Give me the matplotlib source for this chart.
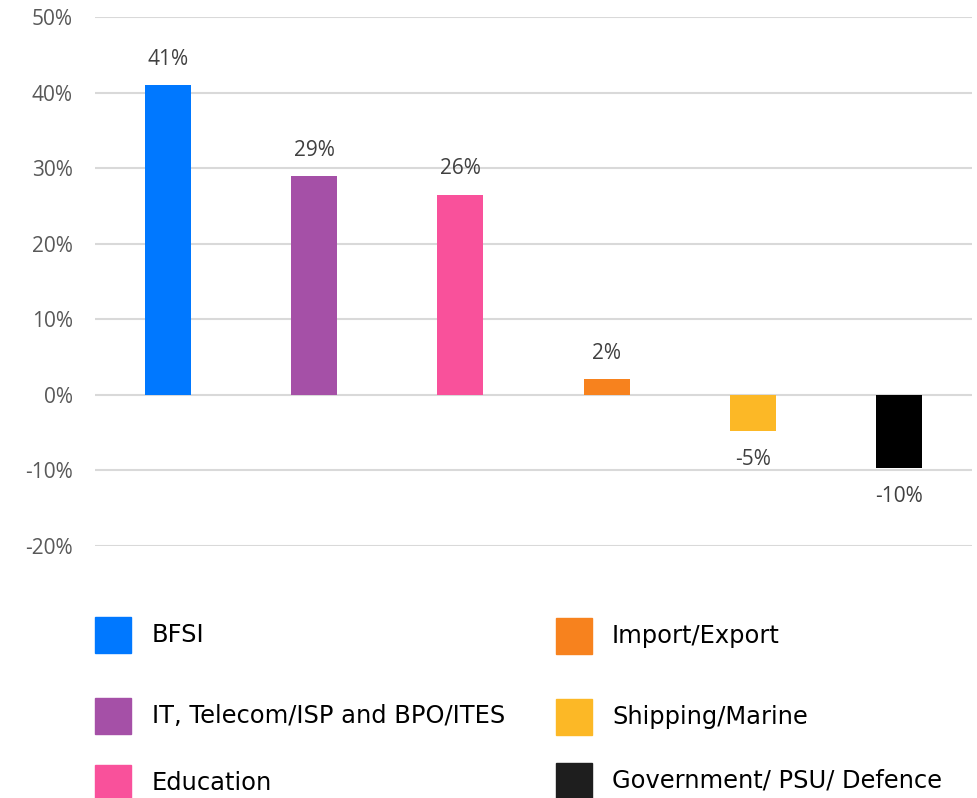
import matplotlib.pyplot as plt
from matplotlib.patches import Rectangle
from matplotlib.ticker import FuncFormatter

# data
categories = ['BFSI', 'IT, Telecom/ISP and BPO/ITES', 'Education',
              'Import/Export', 'Shipping/Marine', 'Government/ PSU/ Defence']
values = [41.0, 29.0, 26.5, 2.1, -4.8, -9.7]
labels = ['41%', '29%', '26%', '2%', '-5%', '-10%']
colors = ['#0078FF', '#A550A7', '#F9519B', '#F7821E', '#FCB826', '#000000']
legend_colors = ['#0078FF', '#A550A7', '#F9519B', '#F7821E', '#FCB826', '#1E1E1E']
yticks = [-20, -10, 0, 10, 20, 30, 40, 50]

W, H = 977, 798
fig = plt.figure(figsize=(W / 100, H / 100), dpi=100)
ax = fig.add_axes([95 / W, 1 - 546 / H, (972 - 95) / W, (546 - 17) / H])

x = range(len(values))
bars = ax.bar(x, values, width=0.315, color=colors, zorder=3)

for i, (v, lab) in enumerate(zip(values, labels)):
    off = 3.4 if v >= 0 else -3.8
    ax.text(i, v + off, lab, ha='center', va='center', fontsize=15,
            family='Open Sans', color='#404040')

ax.set_xlim(-0.5, len(values) - 0.5)
ax.set_ylim(-20, 50)
ax.set_yticks(yticks)
ax.yaxis.set_major_formatter(FuncFormatter(lambda v, p: '{:.0f}%'.format(v)))
ax.tick_params(axis='y', length=0, labelsize=15, labelcolor='#595959', pad=16)
for t in ax.get_yticklabels():
    t.set_family('Open Sans')
ax.set_xticks([])
ax.grid(axis='y', color='#D9D9D9', linewidth=1.5, zorder=0)
for s in ax.spines.values():
    s.set_visible(False)

# legend drawn by hand, two columns
rows_left = [635, 716, 783]
rows_right = [636, 717, 781]
for i, name in enumerate(categories):
    col = i // 3
    yc = (rows_left if col == 0 else rows_right)[i % 3]
    px = 95 if col == 0 else 556
    tx = 152 if col == 0 else 612
    fig.add_artist(Rectangle((px / W, 1 - (yc + 18) / H), 36 / W, 36 / H,
                             transform=fig.transFigure, color=legend_colors[i]))
    fig.text(tx / W, 1 - yc / H, name, fontsize=17.4, family='DejaVu Sans',
             color='black', ha='left', va='center')

fig.savefig('out.png', dpi=100)
